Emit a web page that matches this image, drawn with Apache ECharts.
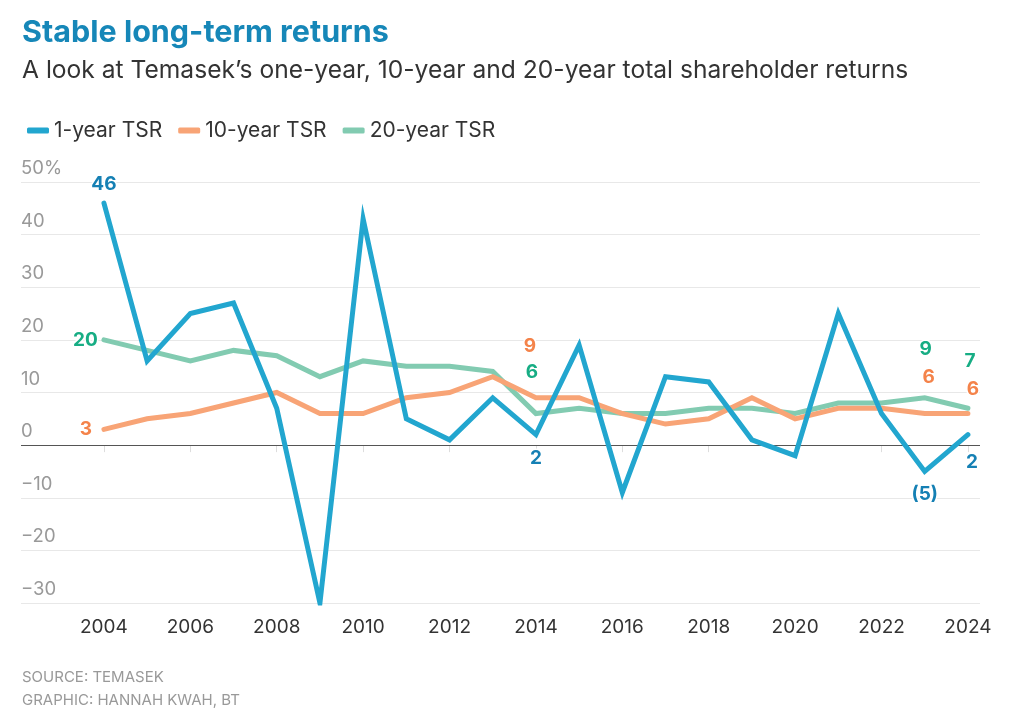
<!DOCTYPE html>
<html>
<head>
<meta charset="utf-8">
<script src="https://cdn.jsdelivr.net/npm/echarts@6/dist/echarts.min.js"></script>
<style>
html,body{margin:0;padding:0;background:#fff;}
#chart{width:1024px;height:728px;}
</style>
</head>
<body>
<div id="chart"></div>
<script>
var years = [2004,2005,2006,2007,2008,2009,2010,2011,2012,2013,2014,2015,2016,2017,2018,2019,2020,2021,2022,2023,2024];
var oneYear = [46,16,25,27,7,-30,43,5,1,9,2,19,-9,13,12,1,-2,25,6,-5,2];
var tenYear = [3,5,6,8,10,6,6,9,10,13,9,9,6,4,5,9,5,7,7,6,6];
var twentyYear = [20,18,16,18,17,13,16,15,15,14,6,7,6,6,7,7,6,8,8,9,7];
var xTicks = [2004,2006,2008,2010,2012,2014,2016,2018,2020,2022,2024];
var seriesNames = ['1-year TSR','10-year TSR','20-year TSR'];

var FONT = 'Inter, "Noto Sans", sans-serif';
var lineColors = ['#22a6cf','#f8a476','#82cbb1'];
var labelColors = ['#1580b4','#f4834a','#17ad84'];

// label placements (styles) keyed by year
var labelCfg = [
  {2004:{position:'top',distance:9,offset:[0,0]},
   2014:{position:'bottom',distance:14,offset:[0,0]},
   2023:{position:'bottom',distance:13,offset:[0,0]},
   2024:{position:'bottom',distance:18,offset:[4,0]}},
  {2004:{position:'left',distance:12,offset:[0,0]},
   2014:{position:'top',distance:42,offset:[-6,0]},
   2023:{position:'top',distance:27,offset:[4,0]},
   2024:{position:'top',distance:15,offset:[5,0]}},
  {2004:{position:'left',distance:6,offset:[0,0]},
   2014:{position:'top',distance:32,offset:[-4,0]},
   2023:{position:'top',distance:39,offset:[1,0]},
   2024:{position:'top',distance:37,offset:[2,0]}}
];

function fmtVal(v){ return v < 0 ? '(' + Math.abs(v) + ')' : String(v); }

function buildData(vals, idx){
  return years.map(function(y,i){
    var item = {value:[y, vals[i]]};
    var c = labelCfg[idx][y];
    if (c) {
      item.label = {
        show:true, position:c.position, distance:c.distance, offset:c.offset,
        formatter: fmtVal(vals[i]),
        color: labelColors[idx], fontSize:19, fontWeight:'bold', fontFamily:FONT,
        textBorderColor:'#fff', textBorderWidth:3
      };
    }
    return item;
  });
}

var vals = [oneYear, tenYear, twentyYear];
var series = vals.map(function(v, idx){
  return {
    name: seriesNames[idx],
    type:'line',
    data: buildData(v, idx),
    symbol:'circle',
    symbolSize:0.1,
    showSymbol:true,
    showAllSymbol:true,
    lineStyle:{color:lineColors[idx], width:5, cap:'round', join:'miter'},
    itemStyle:{color:lineColors[idx], borderWidth:0},
    emphasis:{disabled:true},
    z: 10 - idx,
    animation:false
  };
});
series[0].markLine = {
  silent:true, symbol:'none', animation:false,
  label:{show:false},
  lineStyle:{color:'#555', width:1.2, type:'solid'},
  data:[{yAxis:0}],
  z:1
};

var chart = echarts.init(document.getElementById('chart'), null, {renderer:'canvas'});
chart.setOption({
  backgroundColor:'#fff',
  animation:false,
  textStyle:{fontFamily:FONT},
  legend:{
    left:22, top:115,
    icon:'roundRect', itemWidth:22, itemHeight:6, itemGap:16,
    textStyle:{fontSize:21, color:'#333', fontFamily:FONT},
    data: seriesNames.map(function(n,i){return {name:n, itemStyle:{color:lineColors[i]}};})
  },
  graphic:[
    {type:'text', left:22, top:17, style:{text:'Stable long-term returns', fill:'#1687b8', font:'bold 30.5px ' + FONT}},
    {type:'text', left:22, top:58, style:{text:'A look at Temasek\u2019s one-year, 10-year and 20-year total shareholder returns', fill:'#333', font:'24.6px ' + FONT}},
    {type:'text', left:22, top:670, style:{text:'SOURCE: TEMASEK', fill:'#999', font:'15px ' + FONT}},
    {type:'text', left:22, top:693, style:{text:'GRAPHIC: HANNAH KWAH, BT', fill:'#999', font:'15px ' + FONT}}
  ],
  grid:{left:21, right:44, top:182, bottom:125, containLabel:false},
  xAxis:{
    type:'value', min:2002.08, max:2024.28,
    splitLine:{show:false},
    axisLine:{show:false},
    axisTick:{show:true, customValues:xTicks, length:7, lineStyle:{color:'#ddd', width:1}},
    axisLabel:{customValues:xTicks, color:'#333', fontSize:19, fontFamily:FONT, margin:15,
      formatter:function(v){return String(v);}}
  },
  yAxis:{
    type:'value', min:-30, max:50, interval:10,
    axisLine:{show:false}, axisTick:{show:false},
    splitLine:{show:true, lineStyle:{color:'#e8e8e8', width:1.2}},
    axisLabel:{inside:true, margin:0, verticalAlign:'bottom', padding:[0,0,4,0],
      color:'#999', fontSize:18.5, fontFamily:FONT,
      formatter:function(v){ if (v===50) return '50%'; if (v<0) return '\u2212' + Math.abs(v); return String(v);} }
  },
  series: series
});
</script>
</body>
</html>
